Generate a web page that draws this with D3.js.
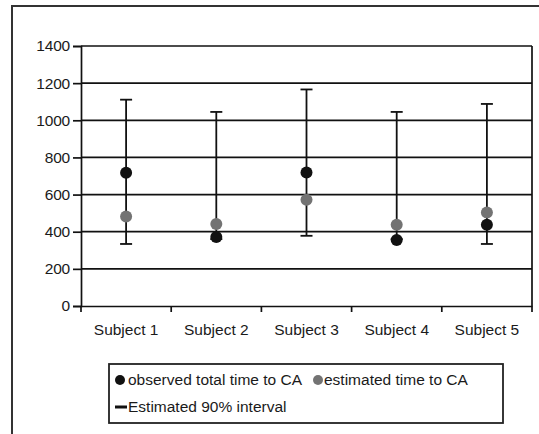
<!DOCTYPE html>
<html>
<head>
<meta charset="utf-8">
<script src="https://cdn.jsdelivr.net/npm/d3@7"></script>
<style>
  body { margin: 0; background: #fff; }
  text { font-family: "Liberation Sans", Arial, sans-serif; fill: #1a1a1a; }
</style>
</head>
<body>
<svg class="chart" width="539" height="434"></svg>
<script>
var subjects = ["Subject 1", "Subject 2", "Subject 3", "Subject 4", "Subject 5"];
var observed = [718, 372, 719, 356, 437];
var estimated = [482, 441, 572, 437, 503];
var lower = [334, 360, 378, 360, 334];
var upper = [1111, 1045, 1166, 1045, 1088];
var yTicks = [0, 200, 400, 600, 800, 1000, 1200, 1400];

var svg = d3.select(".chart"),
    margin = {top: 46, right: 7, bottom: 128, left: 81},
    width = +svg.attr("width") - margin.left - margin.right,
    height = +svg.attr("height") - margin.top - margin.bottom;

// outer frame (runs past the window edge)
svg.append("rect")
    .attr("x", 12).attr("y", 6)
    .attr("width", 600).attr("height", 500)
    .attr("fill", "none")
    .attr("stroke", "#333")
    .attr("stroke-width", 2);

var g = svg.append("g").attr("transform", "translate(" + margin.left + "," + margin.top + ")");

var x = d3.scaleBand().domain(subjects).range([0, width]);
var y = d3.scaleLinear().domain([0, 1400]).range([height, 0]);

// gridlines
g.selectAll(".grid")
  .data(yTicks.filter(function(d) { return d > 0; }))
  .enter().append("line")
    .attr("x1", 0).attr("x2", width)
    .attr("y1", function(d) { return y(d); })
    .attr("y2", function(d) { return y(d); })
    .attr("stroke", "#111")
    .attr("stroke-width", 1.7);

// right border of plot
g.append("line")
    .attr("x1", width).attr("x2", width)
    .attr("y1", 0).attr("y2", height)
    .attr("stroke", "#111").attr("stroke-width", 1.7);

var yAxis = g.append("g")
    .call(d3.axisLeft(y).tickValues(yTicks).tickSize(8).tickPadding(3).tickFormat(d3.format("d")));
yAxis.selectAll("text").style("font-size", "15.5px").attr("letter-spacing", "-0.2");

var xAxis = g.append("g")
    .attr("transform", "translate(0," + height + ")")
    .call(d3.axisBottom(x).tickSize(0).tickPadding(18));
xAxis.selectAll("text").style("font-size", "15.5px");

// category boundary ticks on x axis
g.append("g").selectAll("line")
  .data(d3.range(subjects.length + 1))
  .enter().append("line")
    .attr("x1", function(i) { return i * x.bandwidth(); })
    .attr("x2", function(i) { return i * x.bandwidth(); })
    .attr("y1", height).attr("y2", height + 6)
    .attr("stroke", "#111").attr("stroke-width", 1.7);

g.selectAll(".domain, .tick line").attr("stroke", "#111").attr("stroke-width", 1.7);

var cx = function(i) { return x(subjects[i]) + x.bandwidth() / 2; };

// error bars
var bars = g.append("g").selectAll("g")
  .data(subjects)
  .enter().append("g");
bars.append("line")
    .attr("x1", function(d, i) { return cx(i); })
    .attr("x2", function(d, i) { return cx(i); })
    .attr("y1", function(d, i) { return y(lower[i]); })
    .attr("y2", function(d, i) { return y(upper[i]); })
    .attr("stroke", "#111").attr("stroke-width", 1.8);
[lower, upper].forEach(function(arr) {
  bars.append("line")
      .attr("x1", function(d, i) { return cx(i) - 6; })
      .attr("x2", function(d, i) { return cx(i) + 6; })
      .attr("y1", function(d, i) { return y(arr[i]); })
      .attr("y2", function(d, i) { return y(arr[i]); })
      .attr("stroke", "#111").attr("stroke-width", 1.8);
});

g.append("g").selectAll("circle")
  .data(estimated)
  .enter().append("circle")
    .attr("cx", function(d, i) { return cx(i); })
    .attr("cy", function(d) { return y(d); })
    .attr("r", 6)
    .attr("fill", "#737373");

g.append("g").selectAll("circle")
  .data(observed)
  .enter().append("circle")
    .attr("cx", function(d, i) { return cx(i); })
    .attr("cy", function(d) { return y(d); })
    .attr("r", 6)
    .attr("fill", "#111");

// legend
var legend = svg.append("g");
legend.append("rect")
    .attr("x", 109).attr("y", 364)
    .attr("width", 394).attr("height", 59)
    .attr("fill", "#fff").attr("stroke", "#222").attr("stroke-width", 1.8);
legend.append("circle").attr("cx", 120).attr("cy", 380).attr("r", 5).attr("fill", "#111");
legend.append("text").attr("x", 128).attr("y", 385).style("font-size", "15.5px")
    .text("observed total time to CA");
legend.append("circle").attr("cx", 318).attr("cy", 380).attr("r", 5).attr("fill", "#737373");
legend.append("text").attr("x", 324).attr("y", 385).style("font-size", "15.5px")
    .text("estimated time to CA");
legend.append("line").attr("x1", 115).attr("x2", 127).attr("y1", 407).attr("y2", 407)
    .attr("stroke", "#111").attr("stroke-width", 3);
legend.append("text").attr("x", 128).attr("y", 412).style("font-size", "15.5px")
    .text("Estimated 90% interval");
</script>
</body>
</html>
